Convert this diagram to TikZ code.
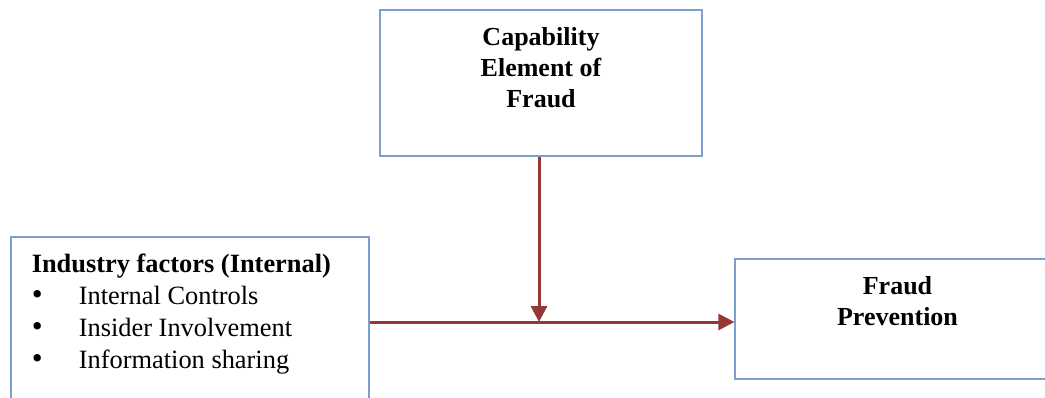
\documentclass[tikz,border=0pt]{standalone}
\usepackage{fontspec}
\setmainfont{Liberation Serif}
\usetikzlibrary{positioning, arrows.meta}
\definecolor{BoxBlue}{RGB}{124,160,206}
\definecolor{FlowRed}{RGB}{149,55,53}
\newcommand{\listdot}{\makebox[23.5pt][l]{\fontsize{15.5}{16}\selectfont\textbullet}}
\tikzset{
    factorbox/.style={
        draw=BoxBlue, line width=0.6pt, fill=white, inner sep=0pt, anchor=center
    },
    boxtitle/.style={
        font=\fontsize{13}{15.5}\selectfont\bfseries, align=center, inner sep=0pt
    },
    factorlist/.style={
        font=\fontsize{13.2}{16}\selectfont, align=left, inner sep=0pt
    },
    flowarrow/.style={
        -{Triangle[length=8pt, width=8pt]}, line width=1.5pt, FlowRed
    }
}

\begin{document}
\begin{tikzpicture}[x=0.5pt, y=-0.5pt]
    \useasboundingbox (0,0) rectangle (1045,397);
    \clip (0,0) rectangle (1045,397);

    % 1. the three boxes
    \node[factorbox, minimum width=161pt, minimum height=73pt] (capbox) at (541,83) {};
    \node[factorbox, minimum width=179pt, minimum height=100pt] (leftbox) at (190,337) {};
    \node[factorbox, minimum width=162.5pt, minimum height=60pt] (fraudbox) at (897.5,319) {};

    % 2. texts inside the boxes
    \node[boxtitle, anchor=north, below=9pt of capbox.north] (captext)
        {Capability\\Element of\\Fraud};
    \node[boxtitle, anchor=north, below=9pt of fraudbox.north] (fraudtext)
        {Fraud\\Prevention};
    \node[factorlist, anchor=north west, below right=8.5pt and 10.5pt of leftbox.north west] (lefttext)
        {\textbf{Industry factors (Internal)}\\
         \listdot Internal Controls\\
         \listdot Insider Involvement\\
         \listdot Information sharing};

    % 3. arrows
    \coordinate (join) at (539,322);
    \draw[flowarrow] (capbox.south -| join) -- (join);
    \draw[flowarrow] (join -| leftbox.east) -- (join -| fraudbox.west);
\end{tikzpicture}
\end{document}
